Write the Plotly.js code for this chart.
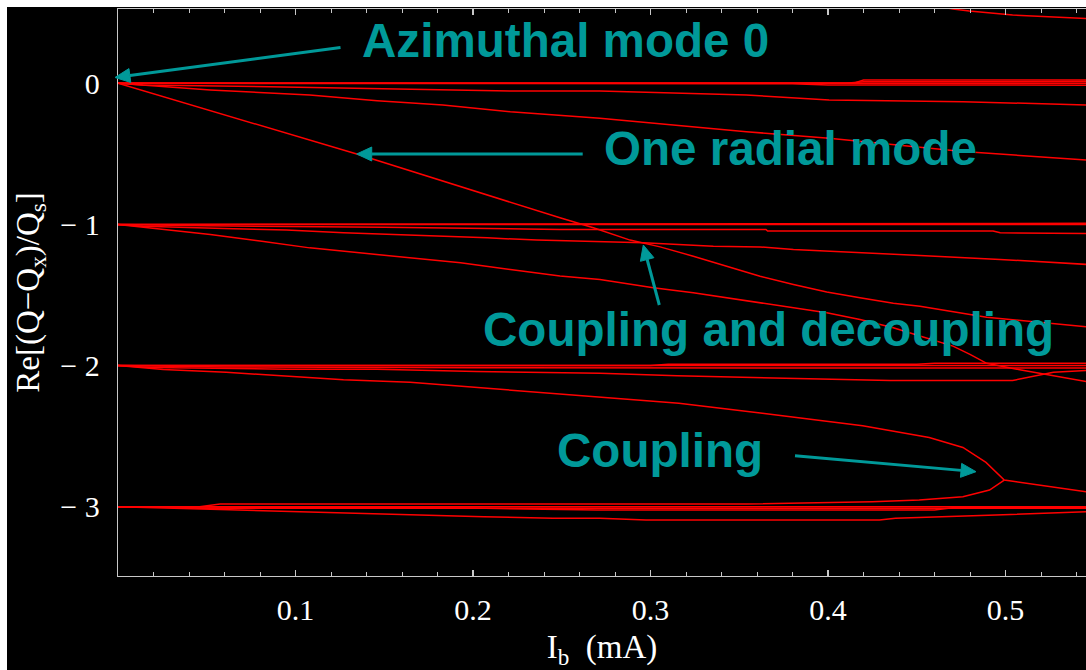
<!DOCTYPE html>
<html>
<head>
<meta charset="utf-8">
<script src="https://cdn.plot.ly/plotly-3.0.1.min.js"></script>
<style>
html,body{margin:0;padding:0;background:#ffffff;width:1086px;height:670px;overflow:hidden}
#chart{position:absolute;left:7px;top:7px;width:1079px;height:663px}
</style>
</head>
<body>
<div id="chart"></div>
<script>
// ---- tick data ----
const xTickVals = [0.1, 0.2, 0.3, 0.4, 0.5];
const xTickText = ['0.1', '0.2', '0.3', '0.4', '0.5'];
const xMinorVals = [0.02, 0.04, 0.06, 0.08, 0.12, 0.14, 0.16, 0.18, 0.22, 0.24, 0.26, 0.28,
                    0.32, 0.34, 0.36, 0.38, 0.42, 0.44, 0.46, 0.48, 0.52, 0.54];
const yTickVals = [0, -1, -2, -3];
const yTickText = ['0', '\u2212 1', '\u2212 2', '\u2212 3'];

// ---- eigenvalue curves: Re[(Q-Qx)/Qs] vs Ib (mA) ----
// azimuthal mode 0 family
const m0FlatX = [0, 0.5454];
const m0FlatY = [0, 0];
const m0LowX = [0, 0.38, 0.40, 0.5454];
const m0LowY = [0, -0.003, -0.012, -0.013];
const m0Up1X = [0, 0.41, 0.42, 0.5454];
const m0Up1Y = [0, 0.001, 0.011, 0.012];
const m0Up2X = [0, 0.415, 0.42, 0.5454];
const m0Up2Y = [0, 0.002, 0.023, 0.024];
const m0bX = [0, 0.014, 0.0856, 0.132, 0.185, 0.225, 0.2715, 0.354, 0.4006, 0.476, 0.5454];
const m0bY = [0, -0.012, -0.024, -0.035, -0.047, -0.055, -0.055, -0.083, -0.118, -0.130, -0.154];
const m0cX = [0, 0.052, 0.108, 0.146, 0.183, 0.221, 0.2715, 0.354, 0.4006, 0.476, 0.5454];
const m0cY = [0, -0.047, -0.083, -0.123, -0.154, -0.201, -0.248, -0.343, -0.390, -0.484, -0.543];
// radial mode (steep line from 0)
const radialX = [0, 0.1345, 0.249, 0.2678, 0.2885, 0.296, 0.3054, 0.3241, 0.3429, 0.3617, 0.3805,
                 0.3993, 0.418, 0.4368, 0.4518, 0.4894, 0.5454];
const radialY = [0, -0.501, -0.953, -1.024, -1.111, -1.130, -1.159, -1.225, -1.296, -1.367, -1.425,
                 -1.479, -1.519, -1.559, -1.579, -1.657, -1.725];
// entering from mode +1 at top right
const topX = [0.463, 0.4704, 0.4796, 0.504, 0.5454];
const topY = [0.545, 0.526, 0.512, 0.484, 0.460];
// mode -1 family
const m1FlatX = [0, 0.5454];
const m1FlatY = [-1, -1];
const m1HiX = [0, 0.2, 0.5454];
const m1HiY = [-1, -0.996, -0.992];
const m1kX = [0, 0.05, 0.15, 0.249, 0.365, 0.366, 0.493, 0.497, 0.5454];
const m1kY = [-1, -1.01, -1.02, -1.035, -1.035, -1.047, -1.047, -1.059, -1.064];
const m1eX = [0, 0.014, 0.065, 0.095, 0.127, 0.155, 0.176, 0.208, 0.236, 0.2659, 0.296, 0.3354,
              0.3617, 0.3805, 0.4331, 0.4518, 0.4969, 0.5454];
const m1eY = [-1, -1.012, -1.031, -1.040, -1.059, -1.071, -1.083, -1.095, -1.111, -1.118, -1.130, -1.154,
              -1.159, -1.177, -1.205, -1.220, -1.248, -1.283];
const m1fX = [0, 0.024, 0.052, 0.080, 0.108, 0.136, 0.1645, 0.193, 0.221, 0.249, 0.2715, 0.3016,
              0.3241, 0.3617, 0.3993, 0.418, 0.4368, 0.4518, 0.4704, 0.480, 0.4894, 0.508, 0.5195, 0.5454];
const m1fY = [-1, -1.031, -1.071, -1.118, -1.166, -1.201, -1.237, -1.272, -1.319, -1.366, -1.390, -1.449,
              -1.484, -1.555, -1.626, -1.673, -1.732, -1.791, -1.862, -1.921, -1.984, -2.030, -2.054, -2.113];
// mode -2 family
const m2FlatX = [0, 0.5454];
const m2FlatY = [-2, -2];
const m2bX = [0, 0.06, 0.2, 0.5454];
const m2bY = [-2, -2.01, -2.015, -2.018];
const m2cX = [0, 0.30, 0.31, 0.45, 0.46, 0.5454];
const m2cY = [-2, -2, -1.991, -1.991, -1.984, -1.984];
const m2gX = [0, 0.018, 0.095, 0.146, 0.202, 0.2715, 0.315, 0.377, 0.435, 0.504, 0.5195, 0.527, 0.5454];
const m2gY = [-2, -2.014, -2.026, -2.026, -2.042, -2.055, -2.073, -2.090, -2.106, -2.106, -2.066, -2.047, -2.035];
const m2hX = [0, 0.0255, 0.061, 0.0856, 0.112, 0.127, 0.1645, 0.183, 0.211, 0.240, 0.2715, 0.316,
              0.363, 0.4195, 0.457, 0.476, 0.489, 0.4993, 0.5454];
const m2hY = [-2, -2.028, -2.047, -2.066, -2.085, -2.101, -2.118, -2.136, -2.165, -2.189, -2.219, -2.267,
              -2.338, -2.426, -2.510, -2.580, -2.686, -2.811, -2.894];
// mode -3 family
const m3FlatX = [0, 0.5454];
const m3FlatY = [-3, -3];
const m3nX = [0, 0.046, 0.0575, 0.354, 0.425, 0.4514, 0.476, 0.491, 0.4993];
const m3nY = [-3, -3, -2.981, -2.981, -2.965, -2.953, -2.929, -2.882, -2.811];
const m3jX = [0, 0.065, 0.0988, 0.127, 0.1645, 0.206, 0.245, 0.2715, 0.2975, 0.429, 0.438, 0.4665, 0.4946, 0.5454];
const m3jY = [-3, -3.023, -3.035, -3.042, -3.059, -3.071, -3.082, -3.082, -3.094, -3.094, -3.082, -3.071, -3.059, -3.035];
const m3aX = [0, 0.035, 0.045, 0.5454];
const m3aY = [-3, -3, -3.011, -3.011];
const m3bX = [0, 0.2, 0.27, 0.46, 0.47, 0.5454];
const m3bY = [-3, -3.01, -3.023, -3.023, -3.008, -3.008];

const curves = [
  [m0FlatX, m0FlatY], [m0LowX, m0LowY], [m0Up1X, m0Up1Y], [m0Up2X, m0Up2Y],
  [m0bX, m0bY], [m0cX, m0cY], [radialX, radialY], [topX, topY],
  [m1FlatX, m1FlatY], [m1HiX, m1HiY], [m1kX, m1kY], [m1eX, m1eY], [m1fX, m1fY],
  [m2FlatX, m2FlatY], [m2bX, m2bY], [m2cX, m2cY], [m2gX, m2gY], [m2hX, m2hY],
  [m3FlatX, m3FlatY], [m3nX, m3nY], [m3jX, m3jY], [m3aX, m3aY], [m3bX, m3bY]
];

const traces = curves.map(c => ({
  type: 'scatter', mode: 'lines', x: c[0], y: c[1],
  line: {color: '#ff0000', width: 1.5}, hoverinfo: 'skip', showlegend: false
}));

const serif = 'Liberation Serif, Times New Roman, serif';
const axisGray = '#c8c8c8';
const teal = '#009999';
const annFont = {family: 'Liberation Sans, Arial, sans-serif', size: 47.6, color: teal, weight: 'bold'};

// arrow geometry (paper fractions): tail, base of head, tip, two head corners
const arrows = [
  {s: [0.22986, 0.93210], b: [0.012261, 0.88268], t: [-0.00310, 0.87919], c1: [0.011308, 0.89492], c2: [0.013215, 0.87044]},
  {s: [0.48006, 0.74427], b: [0.26209, 0.74427], t: [0.24659, 0.74427], c1: [0.26209, 0.75661], c2: [0.26209, 0.73192]},
  {s: [0.55919, 0.47795], b: [0.54666, 0.55821], t: [0.54267, 0.58377], c1: [0.55365, 0.56139], c2: [0.53967, 0.55503]},
  {s: [0.69938, 0.21217], b: [0.87093, 0.18628], t: [0.88636, 0.18395], c1: [0.87029, 0.17398], c2: [0.87156, 0.19858]}
];
const shapes = [];
arrows.forEach(a => {
  shapes.push({type: 'line', xref: 'paper', yref: 'paper', x0: a.s[0], y0: a.s[1], x1: a.b[0], y1: a.b[1],
               line: {color: teal, width: 3}});
  shapes.push({type: 'path', xref: 'paper', yref: 'paper',
               path: 'M ' + a.t[0] + ' ' + a.t[1] + ' L ' + a.c1[0] + ' ' + a.c1[1] + ' L ' + a.c2[0] + ' ' + a.c2[1] + ' Z',
               fillcolor: teal, line: {color: teal, width: 1}});
});

const layout = {
  width: 1079, height: 663,
  paper_bgcolor: '#000000', plot_bgcolor: '#000000',
  margin: {l: 111, r: 0, t: 2, b: 94, pad: 0},
  showlegend: false,
  font: {family: serif, size: 30, color: '#ffffff'},
  xaxis: {
    range: [0, 0.54535], showgrid: false, zeroline: false,
    showline: true, linecolor: axisGray, linewidth: 1.3, mirror: 'ticks',
    ticks: 'inside', ticklen: 6, tickwidth: 1.2, tickcolor: axisGray,
    tickmode: 'array', tickvals: xTickVals, ticktext: xTickText,
    tickfont: {family: serif, size: 30, color: '#ffffff'},
    ticklabelstandoff: 7,
    minor: {tickmode: 'array', tickvals: xMinorVals, ticks: 'inside', ticklen: 4,
            tickwidth: 1, tickcolor: axisGray, showgrid: false},
    title: {text: 'I<sub>b</sub>\u00a0\u00a0(mA)', font: {family: serif, size: 33, color: '#ffffff'}, standoff: 13}
  },
  yaxis: {
    range: [-3.491, 0.5265], showgrid: false, zeroline: false,
    showline: true, linecolor: axisGray, linewidth: 1.3, mirror: false,
    ticks: '', tickmode: 'array', tickvals: yTickVals, ticktext: yTickText,
    tickfont: {family: serif, size: 30, color: '#ffffff'},
    ticklabelstandoff: 11,
    title: {text: 'Re[(Q\u2212Q<sub>x</sub>)/Q<sub>s</sub>]', font: {family: serif, size: 33, color: '#ffffff'}, standoff: 10}
  },
  shapes: shapes,
  annotations: [
    {xref: 'paper', yref: 'paper', x: 0.4625, y: 0.9446, text: 'Azimuthal mode 0', showarrow: false,
     font: annFont, xanchor: 'center', yanchor: 'middle'},
    {xref: 'paper', yref: 'paper', x: 0.6949, y: 0.7540, text: 'One radial mode', showarrow: false,
     font: annFont, xanchor: 'center', yanchor: 'middle'},
    {xref: 'paper', yref: 'paper', x: 0.6725, y: 0.4353, text: 'Coupling and decoupling', showarrow: false,
     font: annFont, xanchor: 'center', yanchor: 'middle'},
    {xref: 'paper', yref: 'paper', x: 0.5604, y: 0.2222, text: 'Coupling', showarrow: false,
     font: annFont, xanchor: 'center', yanchor: 'middle'}
  ]
};

Plotly.newPlot('chart', traces, layout, {displayModeBar: false, staticPlot: true});
</script>
</body>
</html>
